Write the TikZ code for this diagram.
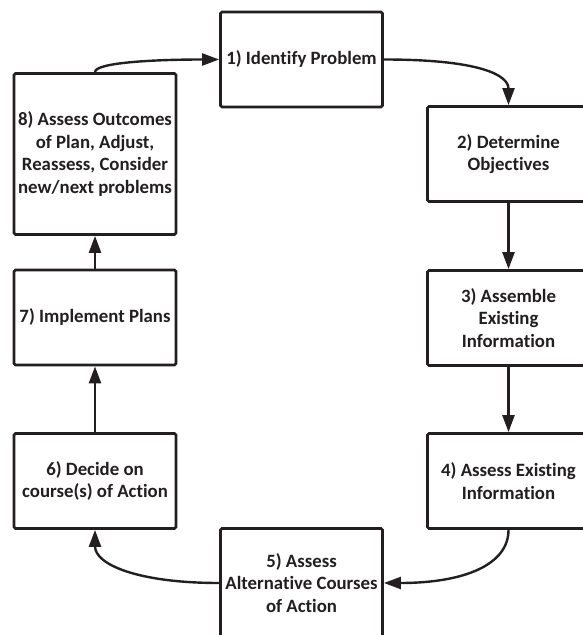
\documentclass[tikz,border=0pt]{standalone}
\usepackage{fontspec}
\setmainfont{Carlito}[Ligatures={NoCommon,NoContextual}]
\usetikzlibrary{arrows.meta}
\definecolor{ink}{RGB}{35,31,32}
\tikzset{
  stage/.style={draw=ink, line width=2.8pt, rounded corners=1.5pt, fill=white,
    align=center, minimum width=162pt, minimum height=95pt, inner sep=2pt,
    text=ink, font=\fontsize{18.8}{22.5}\selectfont\bfseries},
  flow/.style={draw=ink, line width=2.4pt, -{Triangle[length=17pt,width=12pt]}}
}

\begin{document}
\begin{tikzpicture}[x=1pt,y=1pt]
    \useasboundingbox (0,0) rectangle (583,635);

    % the eight stages, clockwise from the top
    \node[stage] (identify) at (301.5,575.5) {1) Identify Problem};
    \node[stage] (objectives) at (508.5,481) {2) Determine\\Objectives};
    \node[stage] (assemble) at (508.5,317) {3) Assemble\\Existing\\Information};
    \node[stage] (assess) at (508.5,154) {4) Assess Existing\\Information};
    \node[stage, minimum height=109pt] (alternatives) at (301.5,52) {5) Assess\\Alternative Courses\\of Action};
    \node[stage] (decide) at (95,154) {6) Decide on\\course(s) of Action};
    \node[stage] (implement) at (95,317.5) {7) Implement Plans};
    \node[stage, minimum height=161pt] (outcomes) at (95,481) {8) Assess Outcomes\\of Plan, Adjust,\\Reassess, Consider\\new/next problems};

    % the cycle
    \draw[flow] (identify.east) to[out=0, in=90, out distance=96, in distance=30] (objectives.north);
    \draw[flow] (objectives.south) -- (assemble.north);
    \draw[flow] (assemble.south) -- (assess.north);
    \draw[flow] (assess.south) to[out=-90, in=0, out distance=35, in distance=80] (alternatives.east);
    \draw[flow] (alternatives.west) to[out=180, in=-90, out distance=80, in distance=35] (decide.south);
    \draw[flow] (decide.north) -- (implement.south);
    \draw[flow] (implement.north) -- (outcomes.south);
    \draw[flow] (outcomes.north) to[out=90, in=180, out distance=10, in distance=60] (identify.west);
\end{tikzpicture}
\end{document}
